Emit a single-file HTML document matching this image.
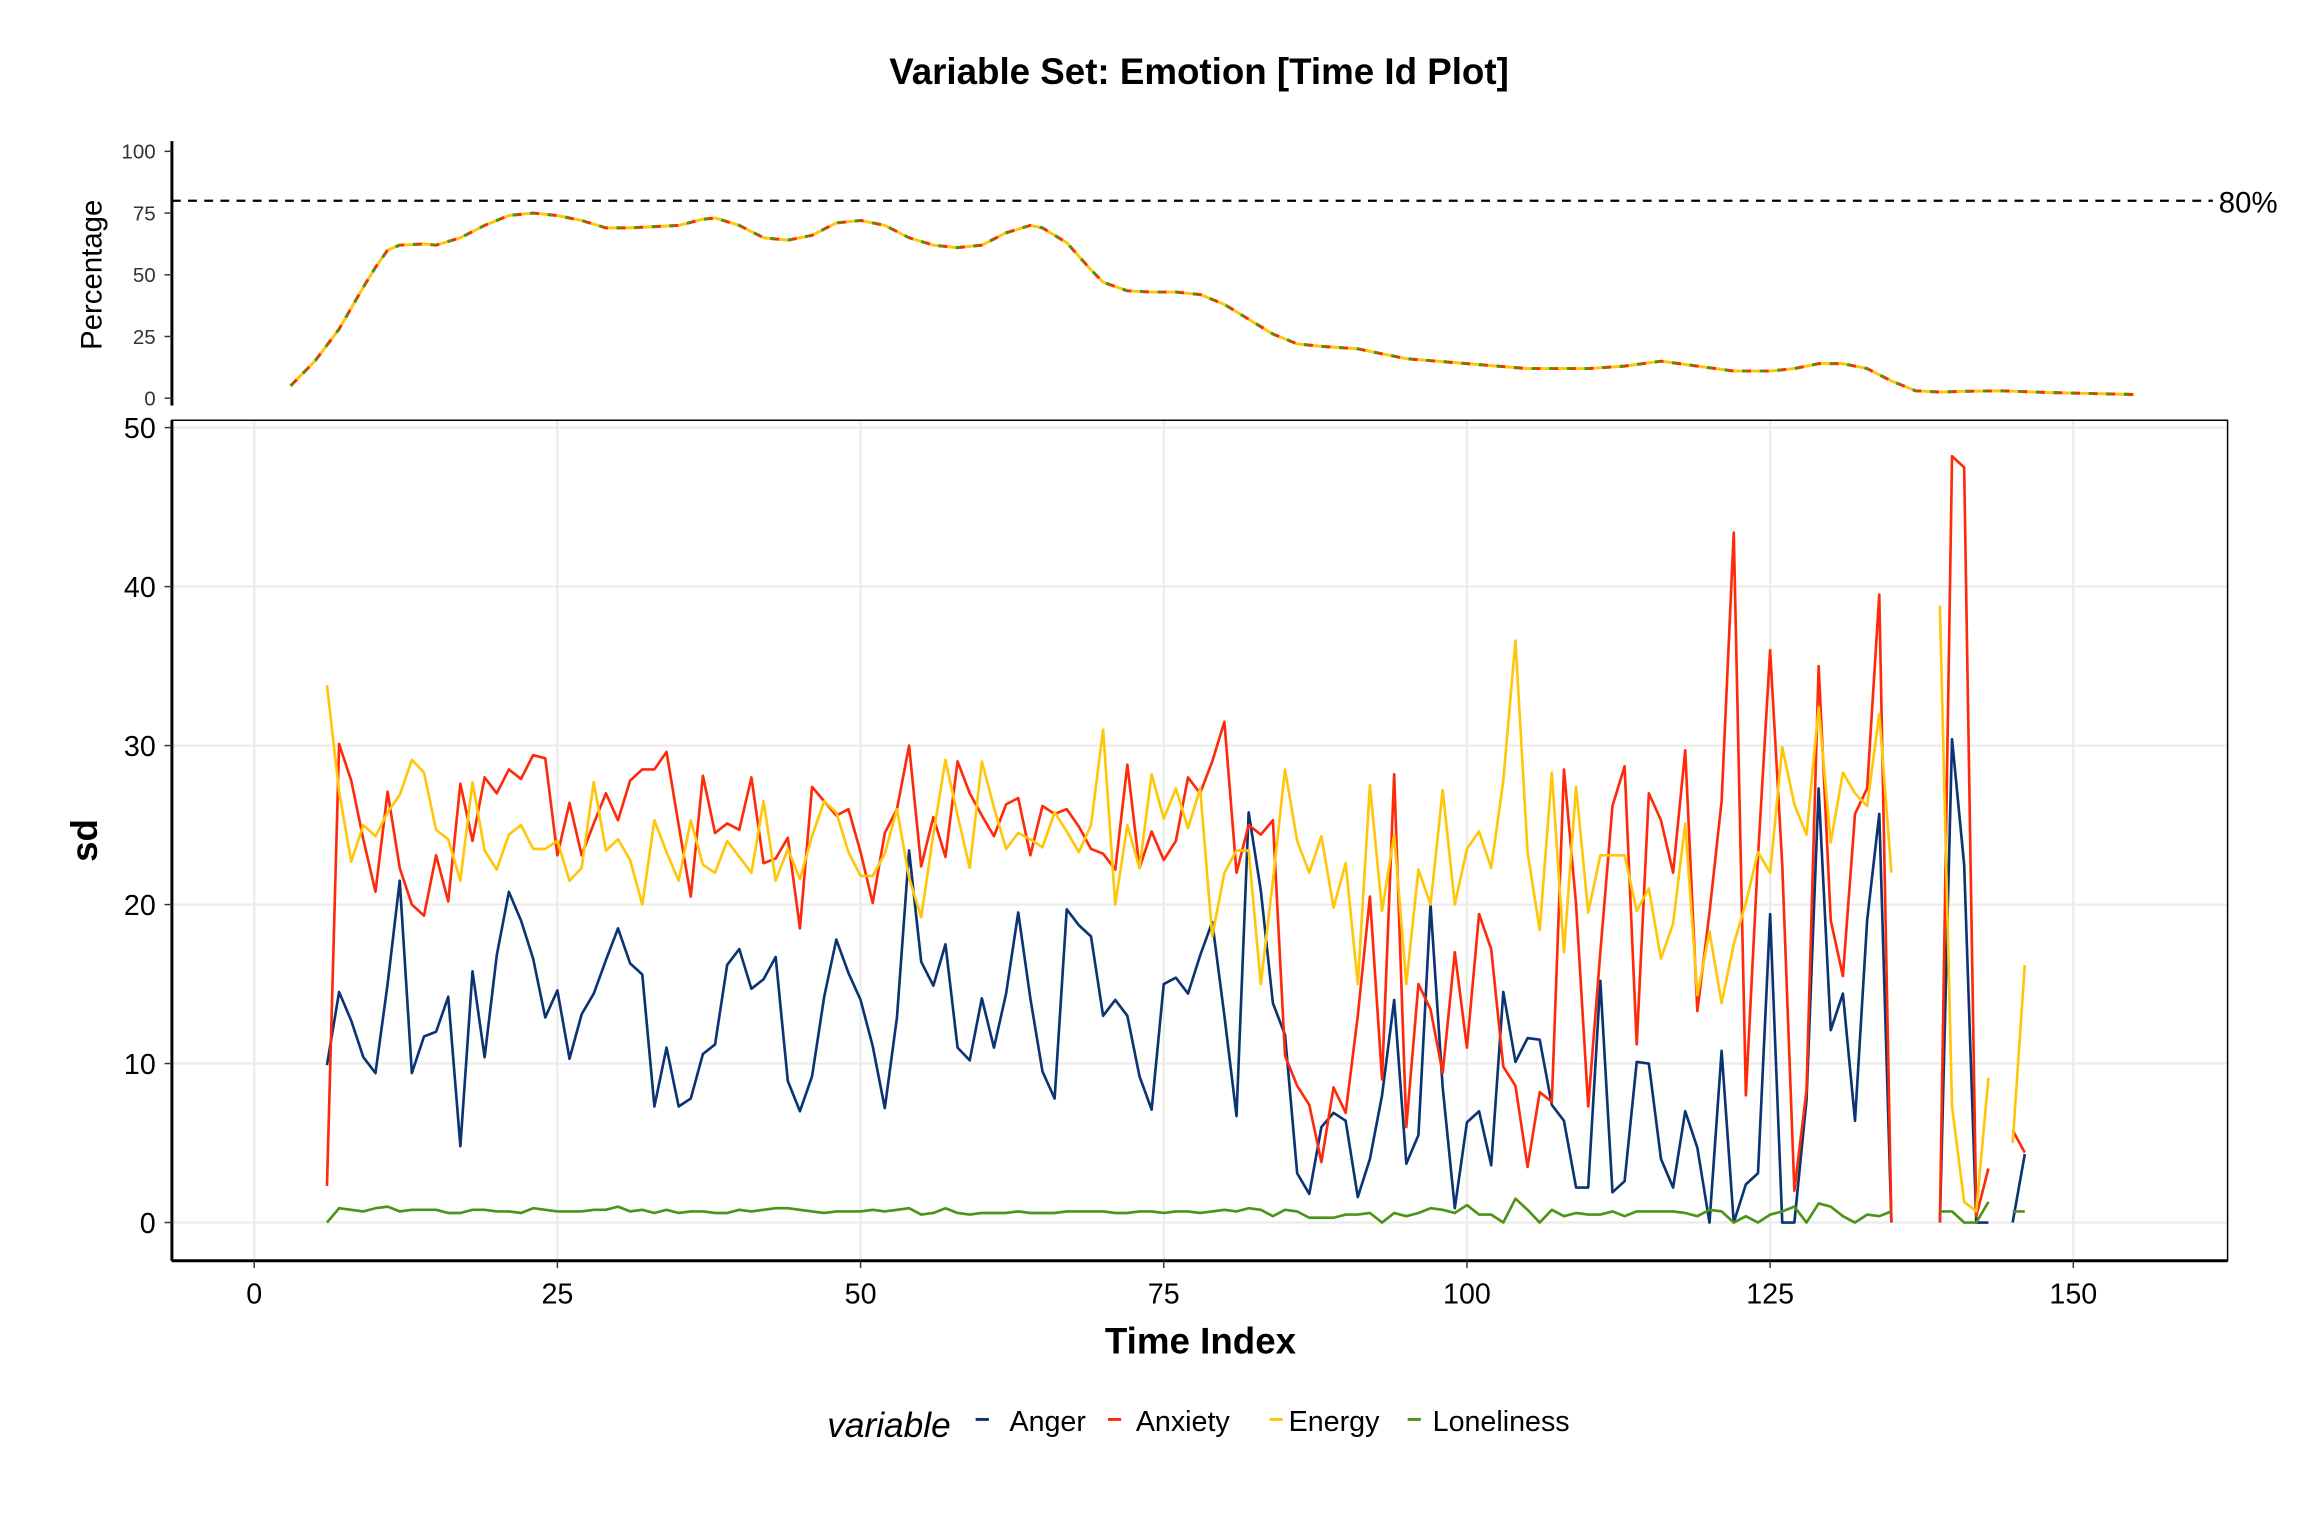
<!DOCTYPE html>
<html><head><meta charset="utf-8"><style>html,body{margin:0;padding:0;background:#fff}svg{display:block}text{font-family:"Liberation Sans",Arial,sans-serif}</style></head>
<body>
<svg id="chart" xmlns="http://www.w3.org/2000/svg" width="2304" height="1536" viewBox="0 0 1568 1045.33">
<rect x="0" y="0" width="1568" height="1046" fill="#fff"/>
<text x="816" y="57" text-anchor="middle" font-size="25" font-weight="bold">Variable Set: Emotion [Time Id Plot]</text>
<g id="topPanel"></g>
<g id="mainPanel"></g>
<g id="legendG"></g>
</svg>
<script>
const startT = 6;
const anger = [9.9,14.5,12.7,10.4,9.4,15,21.5,9.4,11.7,12,14.2,4.8,15.8,10.4,16.8,20.8,19,16.6,12.9,14.6,10.3,13.1,14.4,16.5,18.5,16.3,15.6,7.3,11,7.3,7.8,10.6,11.2,16.2,17.2,14.7,15.3,16.7,8.9,7,9.2,14.2,17.8,15.7,14,11.1,7.2,12.9,23.4,16.4,14.9,17.5,11,10.2,14.1,11,14.4,19.5,14.1,9.5,7.8,19.7,18.7,18,13,14,13,9.2,7.1,15,15.4,14.4,16.8,18.9,13,6.7,25.8,20.9,13.8,11.8,3.1,1.8,6,6.9,6.4,1.6,4,8,14,3.7,5.5,20,8.5,0.9,6.3,7,3.6,14.5,10.1,11.6,11.5,7.4,6.4,2.2,2.2,15.2,1.9,2.6,10.1,10,4,2.2,7,4.7,0,10.8,0,2.4,3.1,19.4,0,0,7.7,27.3,12.1,14.4,6.4,19,25.7,0,null,null,null,0,30.4,22.5,0,0,null,0,4.3];
const anxiety = [2.3,30.1,27.8,24.1,20.8,27.1,22.3,20,19.3,23.1,20.2,27.6,24,28,27,28.5,27.9,29.4,29.2,23.1,26.4,23.1,25.1,27,25.3,27.8,28.5,28.5,29.6,25,20.5,28.1,24.5,25.1,24.7,28,22.6,22.9,24.2,18.5,27.4,26.5,25.6,26,23.3,20.1,24.5,26,30,22.4,25.5,23,29,27,25.6,24.3,26.3,26.7,23.1,26.2,25.7,26,24.9,23.5,23.2,22.2,28.8,22.3,24.6,22.8,24,28,27,29,31.5,22,25,24.4,25.3,10.5,8.6,7.4,3.8,8.5,6.9,13,20.5,9,28.2,6,15,13.4,9.4,17,11,19.4,17.2,9.8,8.6,3.5,8.2,7.6,28.5,20,7.3,17,26.2,28.7,11.2,27,25.3,22,29.7,13.3,19.5,26.5,43.4,8,23,36,22.5,2,8.3,35,19,15.5,25.7,27.3,39.5,0,null,null,null,0,48.2,47.5,0.4,3.4,null,5.8,4.4];
const energy = [33.8,27.1,22.7,25,24.3,25.8,26.9,29.1,28.3,24.7,24.1,21.5,27.7,23.4,22.2,24.4,25,23.5,23.5,24,21.5,22.3,27.7,23.4,24.1,22.8,20,25.3,23.3,21.5,25.3,22.5,22,24,23,22,26.5,21.5,23.5,21.6,24.3,26.5,25.8,23.3,21.8,21.8,23.2,26,21.7,19.2,24.4,29.1,25.6,22.3,29,26.1,23.5,24.5,24.1,23.6,25.8,24.6,23.3,25,31,20,25,22.3,28.2,25.4,27.3,24.8,27.3,18,22,23.4,23.4,15,21.5,28.5,24,22,24.3,19.8,22.6,15,27.5,19.6,24.4,15,22.2,20,27.2,20,23.5,24.6,22.3,27.8,36.6,23.3,18.4,28.3,17,27.4,19.5,23.1,23.1,23.1,19.6,21,16.6,18.8,25.1,14.3,18.3,13.8,17.5,20.1,23.3,22,29.9,26.3,24.4,32.4,23.9,28.3,27,26.2,32,22,null,null,null,38.8,7.3,1.3,0.7,9.1,null,5,16.2];
const loneliness = [0,0.9,0.8,0.7,0.9,1,0.7,0.8,0.8,0.8,0.6,0.6,0.8,0.8,0.7,0.7,0.6,0.9,0.8,0.7,0.7,0.7,0.8,0.8,1,0.7,0.8,0.6,0.8,0.6,0.7,0.7,0.6,0.6,0.8,0.7,0.8,0.9,0.9,0.8,0.7,0.6,0.7,0.7,0.7,0.8,0.7,0.8,0.9,0.5,0.6,0.9,0.6,0.5,0.6,0.6,0.6,0.7,0.6,0.6,0.6,0.7,0.7,0.7,0.7,0.6,0.6,0.7,0.7,0.6,0.7,0.7,0.6,0.7,0.8,0.7,0.9,0.8,0.4,0.8,0.7,0.3,0.3,0.3,0.5,0.5,0.6,0,0.6,0.4,0.6,0.9,0.8,0.6,1.1,0.5,0.5,0,1.5,0.8,0,0.8,0.4,0.6,0.5,0.5,0.7,0.4,0.7,0.7,0.7,0.7,0.6,0.4,0.8,0.7,0,0.4,0,0.5,0.7,1,0,1.2,1,0.4,0,0.5,0.4,0.7,null,null,null,0.7,0.7,0,0,1.3,null,0.7,0.7];
const pctT = [3,5,7,9,10,11,12,14,15,17,19,21,23,25,27,29,31,33,35,37,38,40,42,44,46,48,50,52,54,56,58,60,62,64,65,67,69,70,72,74,76,78,80,82,84,86,88,91,93,95,100,105,110,113,116,119,122,125,127,129,131,133,135,137,139,141,144,148,155];
const pctV = [5,15,28,45,53,60,62,62.5,62,65,70,74,75,74,72,69,69,69.5,70,72.5,73,70,65,64,66,71,72,70,65,62,61,62,67,70,69,63,52,47,43.5,43,43,42,38,32,26,22,21,20,18,16,14,12,12,13,15,13,11,11,12,14,14,12,7,3,2.5,2.8,3,2.3,1.5];
const yTicks = [0,10,20,30,40,50];
const xTicks = [0,25,50,75,100,125,150];
const pTicks = [0,25,50,75,100];
const NS='http://www.w3.org/2000/svg';
function xS(t){return 173+t*(1411-173)/150;}
function yS(v){return 832-v*(832-291)/50;}
function pS(v){return 271-v*1.68;}
function mk(tag,attrs,parent){const e=document.createElementNS(NS,tag);for(const k in attrs)e.setAttribute(k,attrs[k]);parent.appendChild(e);return e;}
const mainG=document.getElementById('mainPanel'), topG=document.getElementById('topPanel'), legG=document.getElementById('legendG');
xTicks.forEach(t=>{const l=mk('line',{x1:xS(t),x2:xS(t),y1:286,y2:858,stroke:'#ebebeb','stroke-width':1.5},mainG);

});
yTicks.forEach(v=>{const l=mk('line',{x1:117,x2:1516,y1:yS(v),y2:yS(v),stroke:'#ebebeb','stroke-width':1.5},mainG);

});
const border=mk('rect',{x:117,y:286,width:1399,height:572,fill:'none',stroke:'#000','stroke-width':1},mainG);


mk('line',{x1:117,x2:117,y1:286,y2:858,stroke:'#000','stroke-width':2},mainG);
mk('line',{x1:117,x2:1516,y1:858,y2:858,stroke:'#000','stroke-width':2},mainG);
yTicks.forEach(v=>{mk('line',{x1:112,x2:117,y1:yS(v),y2:yS(v),stroke:'#333'},mainG);
const t=mk('text',{x:106,y:yS(v)+7,'text-anchor':'end','font-size':19.5,fill:'#000'},mainG);t.textContent=v;

});
xTicks.forEach(v=>{mk('line',{x1:xS(v),x2:xS(v),y1:858,y2:863,stroke:'#333'},mainG);
const t=mk('text',{x:xS(v),y:887,'text-anchor':'middle','font-size':19.5,fill:'#000'},mainG);t.textContent=v;

});
const xt=mk('text',{x:817,y:921,'text-anchor':'middle','font-size':25,'font-weight':'bold'},mainG);xt.textContent='Time Index';


const yt=mk('text',{x:0,y:0,'text-anchor':'middle','font-size':25,'font-weight':'bold',transform:'translate(66,572) rotate(-90)'},mainG);yt.textContent='sd';


const series=[['anger',anger,'#0b3473'],['anxiety',anxiety,'#ff2a0a'],['energy',energy,'#ffc60a'],['loneliness',loneliness,'#4b9418']];
function pathFor(arr){let d='',pen=false;arr.forEach((v,i)=>{if(v===null){pen=false;return;}d+=(pen?'L':'M')+xS(startT+i).toFixed(2)+' '+yS(v).toFixed(2);pen=true;});return d;}
series.forEach(s=>{const p=mk('path',{d:pathFor(s[1]),fill:'none',stroke:s[2],'stroke-width':1.8,'stroke-linejoin':'round'},mainG);

});
mk('line',{x1:117,x2:117,y1:96,y2:276,stroke:'#000','stroke-width':2},topG);
pTicks.forEach(v=>{mk('line',{x1:112,x2:117,y1:pS(v),y2:pS(v),stroke:'#333'},topG);
const t=mk('text',{x:106,y:pS(v)+5,'text-anchor':'end','font-size':14,fill:'#333'},topG);t.textContent=v;

});
const pt=mk('text',{x:0,y:0,'text-anchor':'middle','font-size':20,transform:'translate(69,187) rotate(-90)'},topG);pt.textContent='Percentage';


const ref=mk('line',{x1:117,x2:1506,y1:pS(80),y2:pS(80),stroke:'#000','stroke-width':1.5,'stroke-dasharray':'6,5'},topG);


const rl=mk('text',{x:1510,y:pS(80)+8,'font-size':20},topG);rl.textContent='80%';


let pd='';pctT.forEach((t,i)=>{pd+=(i?'L':'M')+xS(t).toFixed(2)+' '+pS(pctV[i]).toFixed(2);});
[['#ffc60a',''],['#ff2a0a','6,6'],['#4b9418','3,9']].forEach(c=>{const p=mk('path',{d:pd,fill:'none',stroke:c[0],'stroke-width':2,'stroke-dasharray':c[1],'stroke-linejoin':'round'},topG);

});
const lt=mk('text',{x:563,y:978,'font-size':24,'font-style':'italic'},legG);lt.textContent='variable';


[['Anger',664,687,'#0b3473'],['Anxiety',754,773,'#ff2a0a'],['Energy',864,877,'#ffc60a'],['Loneliness',958,975,'#4b9418']].forEach(e=>{
const g=mk('g',{},legG);


mk('line',{x1:e[1],x2:e[1]+9,y1:966,y2:966,stroke:e[3],'stroke-width':2},g);
const t=mk('text',{x:e[2],y:974,'font-size':19.5},g);t.textContent=e[0];});
</script>
</body></html>
